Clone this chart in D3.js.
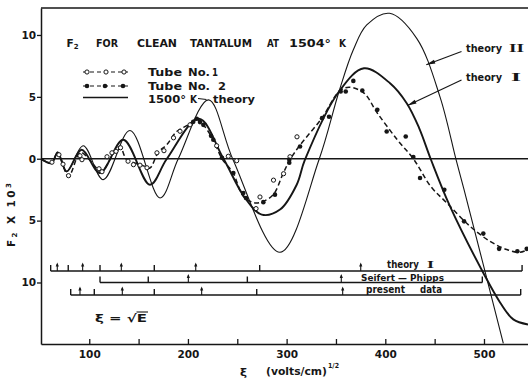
<!DOCTYPE html>
<html>
<head>
<meta charset="utf-8">
<script src="https://cdn.jsdelivr.net/npm/d3@7"></script>
<style>
  body { margin: 0; background: #fff; }
  text { font-family: 'DejaVu Sans', sans-serif; fill: #161616; }
</style>
</head>
<body>
<div id="chart"></div>
<script>
// xi (volts/cm)^1/2 , F2 x 10^3
const theoryOne = [[51.1,0],[61.9,-0.35],[68.0,0.51],[77.1,-1.02],[92.3,0.73],[110.9,-1.15],[134.5,1.53],
  [161.5,-2.1],[178.5,-0.02],[211.2,3.23],[235.5,0.08],[257.8,-3.17],[274.8,-4.52],[293.3,-4.11],
  [310.2,-2.1],[318.6,-0.08],[353.1,5.43],[378.4,7.31],[404.8,6.1],[421.7,4.49],[434.2,2.5],[446.3,-0.08],
  [465.6,-3.85],[501.1,-9.49],[516.3,-11.61],[529.7,-12.98],[544.6,-13.39]];

const theoryTwo = [[51.1,0],[61.9,-0.35],[68.0,0.51],[77.1,-1.05],[93.9,1.05],[114.2,-1.69],[141.3,2.28],
  [171.7,-3.17],[190.2,0],[220.8,4.76],[245.7,-0.08],[293.3,-7.56],[332.8,-0.08],[353.1,5.43],
  [367.6,8.8],[381.2,10.81],[404.3,11.75],[431.8,9.73],[455.5,4.98],[471.7,-0.08],[479.8,-2.5],
  [519.6,-14.92]];

const fitCurve = [[51.1,0],[61.9,-0.35],[68.0,0.51],[78.8,-1.43],[88.9,0.32],[92.3,0.5],[109.2,-0.89],
  [112.6,-1.02],[126.1,0.59],[131.1,0.99],[137.9,-0.08],[146.3,-0.35],[156.5,-0.62],[161.5,-0.75],
  [169.9,0.51],[178.5,1.13],[188.6,2.2],[200.4,2.74],[208.9,3.2],[215.6,2.74],[225.7,1.53],[234.5,0],
  [245.7,-1.13],[256.1,-3.04],[267.9,-3.57],[276.4,-3.44],[286.5,-2.9],[296.7,-1.15],[303.4,-0.08],
  [313.6,1.1],[335.9,3.3],[353.1,5.43],[363.2,5.78],[378.4,5.3],[391.9,3.69],[412.2,1.53],[429.1,-0.08],
  [446,-2.23],[462.3,-3.57],[485.9,-5.46],[506.1,-6.67],[523.1,-7.34],[536.5,-7.56],[544.6,-7.34]];

const tubeOne = [[62.2,-0.28],[69.3,0.32],[73.4,-0.44],[79.0,-1.37],[90.6,0.24],[92.6,-0.08],[109.9,-0.81],
  [112.9,-1.05],[118.0,0.16],[123.0,0.48],[127.1,0.6],[131.7,0.89],[139.3,-0.2],[144.8,-0.48],
  [151.4,-0.52],[158.5,-0.73],[168.6,0.48],[175.7,0.65],[185.4,1.69],[192.0,2.22],[202.1,2.74],
  [229.1,1.05],[240.9,0.2],[249.4,-0.16],[269.0,-4.03],[273.0,-3.09],[286.7,-1.73],[296.9,-1.21],
  [303.4,0.16],[310.5,1.77]];

const tubeTwo = [[205.4,2.98],[208.9,3.23],[212.2,2.96],[215.6,2.74],[223.4,1.85],[225.7,1.53],[234.5,0.08],
  [246.0,-1.15],[256.1,-2.77],[258.8,-3.17],[276.4,-3.51],[288.2,-2.9],[302.7,-0.08],[302.7,-0.32],
  [313.6,0.99],[335.9,3.28],[343.0,3.39],[354.8,5.43],[359.9,5.43],[367.6,6.29],[376.7,5.51],
  [391.9,3.95],[401.4,2.2],[420.7,1.8],[428.4,0.14],[435.2,-1.56],[459.8,-2.5],[479.8,-5.06],
  [499.3,-6.05],[515.3,-7.28],[533.8,-7.48],[543.3,-7.28]];

// extrema positions marked under the curves
const theoryIMax = [67.6, 93.3, 132.5, 207.9, 375.1];
const theoryIMin = [60.9, 78.7, 110.9, 165.9, 272.7, 538.6];
const seifertMax = [200.4, 355.4];
const seifertMin = [110.9, 159.8, 260.2, 498.3];
const presentMax = [90.6, 133.5, 213.9, 356.8];
const presentMin = [81.2, 105.1, 165.9, 269.7, 537.2];

const xTicks = [100, 150, 200, 250, 300, 350, 400, 450, 500];
const xLabels = [100, 200, 300, 400, 500];
const yTicks = [-10, -5, 0, 5, 10];

const W = 528, H = 379;
const box = { left: 41, right: 528, top: 8, bottom: 344 };
const ink = '#161616';

const svg = d3.select('#chart').append('svg').attr('width', W).attr('height', H);

svg.append('defs').append('clipPath').attr('id', 'clip')
  .append('rect').attr('x', box.left).attr('y', box.top)
  .attr('width', box.right - box.left).attr('height', box.bottom - box.top);

const x = d3.scaleLinear().domain([51.1, 544.6]).range([box.left, box.right]);
const y = d3.scaleLinear().domain([-14.97, 12.18]).range([box.bottom, box.top]);

/* Axes
=========================================================================*/
const xAxis = d3.axisBottom(x).tickValues(xTicks).tickSizeInner(-5).tickSizeOuter(0)
  .tickFormat(d => (xLabels.includes(d) ? d : ''));
const gx = svg.append('g').attr('transform', `translate(0,${box.bottom})`).call(xAxis);
gx.select('.domain').attr('stroke', ink).attr('stroke-width', 1.5);
gx.selectAll('.tick line').attr('stroke', ink).attr('stroke-width', 1.3);
gx.selectAll('.tick text').attr('font-size', 10.5).attr('font-weight', 'bold').attr('dy', '1.05em')
  .style('font-family', "'DejaVu Sans', sans-serif").attr('fill', ink);

const yAxis = d3.axisLeft(y).tickValues(yTicks).tickSizeInner(4).tickSizeOuter(0)
  .tickFormat(d => Math.abs(d));
const gy = svg.append('g').attr('transform', `translate(${box.left},0)`).call(yAxis);
gy.select('.domain').attr('stroke', ink).attr('stroke-width', 1.5);
gy.selectAll('.tick line').attr('stroke', ink).attr('stroke-width', 1.3);
gy.selectAll('.tick text').attr('font-size', 10.5).attr('font-weight', 'bold').attr('x', -5)
  .style('font-family', "'DejaVu Sans', sans-serif").attr('fill', ink);

svg.append('line').attr('x1', box.left).attr('x2', box.right).attr('y1', box.top).attr('y2', box.top)
  .attr('stroke', ink).attr('stroke-width', 1.3);
svg.append('line').attr('x1', box.left).attr('x2', box.right).attr('y1', y(0)).attr('y2', y(0))
  .attr('stroke', ink).attr('stroke-width', 1.3);

/* Curves
=========================================================================*/
const line = d3.line().x(d => x(d[0])).y(d => y(d[1])).curve(d3.curveCatmullRom.alpha(0.5));
const curves = svg.append('g').attr('clip-path', 'url(#clip)').attr('fill', 'none').attr('stroke', ink);

curves.append('path').datum(theoryTwo).attr('d', line).attr('stroke-width', 1.1);
curves.append('path').datum(theoryOne).attr('d', line).attr('stroke-width', 1.9);
curves.append('path').datum(fitCurve).attr('d', line).attr('stroke-width', 1.5).attr('stroke-dasharray', '5,3');

svg.append('g').selectAll('circle').data(tubeOne).join('circle')
  .attr('cx', d => x(d[0])).attr('cy', d => y(d[1])).attr('r', 2.1)
  .attr('fill', '#fff').attr('stroke', ink).attr('stroke-width', 1);
svg.append('g').selectAll('circle').data(tubeTwo).join('circle')
  .attr('cx', d => x(d[0])).attr('cy', d => y(d[1])).attr('r', 2.3).attr('fill', ink);

/* Extrema rows
=========================================================================*/
function markRow(maxs, mins, yy) {
  const all = maxs.concat(mins);
  const g = svg.append('g').attr('stroke', ink).attr('fill', ink);
  g.append('line').attr('x1', x(d3.min(all))).attr('x2', x(d3.max(all)))
    .attr('y1', yy).attr('y2', yy).attr('stroke-width', 1.3);
  g.selectAll('.mn').data(mins).join('line').attr('class', 'mn')
    .attr('x1', d => x(d)).attr('x2', d => x(d)).attr('y1', yy).attr('y2', yy - 6).attr('stroke-width', 1.4);
  g.selectAll('.mx').data(maxs).join('line').attr('class', 'mx')
    .attr('x1', d => x(d)).attr('x2', d => x(d)).attr('y1', yy).attr('y2', yy - 7).attr('stroke-width', 1.1);
  g.selectAll('path').data(maxs).join('path')
    .attr('d', d => `M${x(d) - 1.6},${yy - 4.5}L${x(d)},${yy - 8.5}L${x(d) + 1.6},${yy - 4.5}Z`)
    .attr('stroke', 'none');
}
markRow(theoryIMax, theoryIMin, 271);
markRow(seifertMax, seifertMin, 282.5);
markRow(presentMax, presentMin, 295);

/* Text
=========================================================================*/
function word(txt, x0, x1, yy, size, weight) {
  const t = svg.append('text').attr('x', x0).attr('y', yy).attr('font-size', size)
    .attr('font-weight', weight || 'bold').text(txt);
  if (x1) t.attr('textLength', x1 - x0).attr('lengthAdjust', 'spacingAndGlyphs');
  return t;
}

// title
const f2 = svg.append('text').attr('x', 66.5).attr('y', 46.5).attr('font-size', 10.5).attr('font-weight', 'bold');
f2.append('tspan').text('F');
f2.append('tspan').attr('font-size', 7).attr('dy', 2).text('2');
word('FOR', 96, 118, 46.5, 10.5);
word('CLEAN', 137, 177, 46.5, 10.5);
word('TANTALUM', 190, 252, 46.5, 10.5);
word('AT', 267, 279, 46.5, 10.5);
word('1504°', 289, 331, 46.5, 10.5);
word('K', 339, 346, 46.5, 10.5);

// legend
const leg = svg.append('g');
leg.append('line').attr('x1', 83).attr('x2', 128).attr('y1', 72).attr('y2', 72)
  .attr('stroke', ink).attr('stroke-width', 1.2).attr('stroke-dasharray', '4,3');
leg.selectAll('.o').data([87, 106, 124]).join('circle').attr('class', 'o')
  .attr('cx', d => d).attr('cy', 72).attr('r', 2.1).attr('fill', '#fff').attr('stroke', ink);
leg.append('line').attr('x1', 83).attr('x2', 128).attr('y1', 86).attr('y2', 86)
  .attr('stroke', ink).attr('stroke-width', 1.2).attr('stroke-dasharray', '4,3');
leg.selectAll('.f').data([87, 105, 123]).join('circle').attr('class', 'f')
  .attr('cx', d => d).attr('cy', 86).attr('r', 2.3).attr('fill', ink);
leg.append('line').attr('x1', 83).attr('x2', 128).attr('y1', 97.5).attr('y2', 97.5)
  .attr('stroke', ink).attr('stroke-width', 1.4);

word('Tube', 148, 182, 76, 10.5);
word('No.', 188, 210, 76, 10.5);
word('1', 212, 218, 76, 10.5);
word('Tube', 148, 182, 90, 10.5);
word('No.', 188, 210, 90, 10.5);
word('2', 218, 226, 90, 10.5);
word('1500°', 148, 186, 102.5, 10.5);
word('K', 190, 197, 102.5, 10.5);
word('theory', 213, 255, 102.5, 10.5);
svg.append('line').attr('x1', 198).attr('x2', x(220.8) - 2).attr('y1', 98.5).attr('y2', 99.5)
  .attr('stroke', ink).attr('stroke-width', 1.1);

// theory labels with arrows
function arrow(x0, y0, x1, y1) {
  svg.append('line').attr('x1', x0).attr('y1', y0).attr('x2', x1).attr('y2', y1)
    .attr('stroke', ink).attr('stroke-width', 1.1);
  const a = Math.atan2(y1 - y0, x1 - x0);
  const L = 9, w = 2;
  const bx = x1 - L * Math.cos(a), by = y1 - L * Math.sin(a);
  const px = -Math.sin(a) * w, py = Math.cos(a) * w;
  svg.append('path').attr('d', `M${x1},${y1}L${bx + px},${by + py}L${bx - px},${by - py}Z`).attr('fill', ink);
}
word('theory', 466, 502, 51.5, 11);
svg.append('text').attr('x', 509).attr('y', 51.5).attr('font-size', 12).attr('font-weight', 'bold')
  .style('font-family', "'Liberation Serif', serif").attr('textLength', 15).attr('lengthAdjust', 'spacingAndGlyphs').text('II');
arrow(461.5, 51.5, x(441.5), y(7.6));
word('theory', 466, 502, 81, 11);
svg.append('text').attr('x', 511).attr('y', 81).attr('font-size', 12).attr('font-weight', 'bold')
  .style('font-family', "'Liberation Serif', serif").attr('textLength', 10).attr('lengthAdjust', 'spacingAndGlyphs').text('I');
arrow(461.5, 80, x(422.5), y(4.3));

// row labels
word('theory', 387, 419, 268, 10);
svg.append('text').attr('x', 427).attr('y', 268).attr('font-size', 11).attr('font-weight', 'bold')
  .style('font-family', "'Liberation Serif', serif").attr('textLength', 7).attr('lengthAdjust', 'spacingAndGlyphs').text('I');
word('Seifert — Phipps', 361, 444, 280.5, 9.5);
word('present', 366, 405, 293, 10);
word('data', 420, 442, 293, 10);

// xi = sqrt(E)
word('ξ = √E', 95, 147, 322, 11);
svg.append('line').attr('x1', 136.5).attr('x2', 148).attr('y1', 312).attr('y2', 312)
  .attr('stroke', ink).attr('stroke-width', 1.1);

// axis titles
word('ξ', 240, 247, 376, 11);
word('(volts/cm)', 266, 327, 375, 10.5);
word('1/2', 328, 339, 368, 7);

const yt = svg.append('text').attr('transform', 'translate(15,247) rotate(-90)')
  .attr('font-size', 10.5).attr('font-weight', 'bold')
  .attr('textLength', 64).attr('lengthAdjust', 'spacing');
yt.append('tspan').text('F');
yt.append('tspan').attr('font-size', 7).attr('dy', 2).text('2');
yt.append('tspan').attr('dy', -2).text(' X 10');
yt.append('tspan').attr('font-size', 7).attr('dy', -4).text('3');
</script>
</body>
</html>
